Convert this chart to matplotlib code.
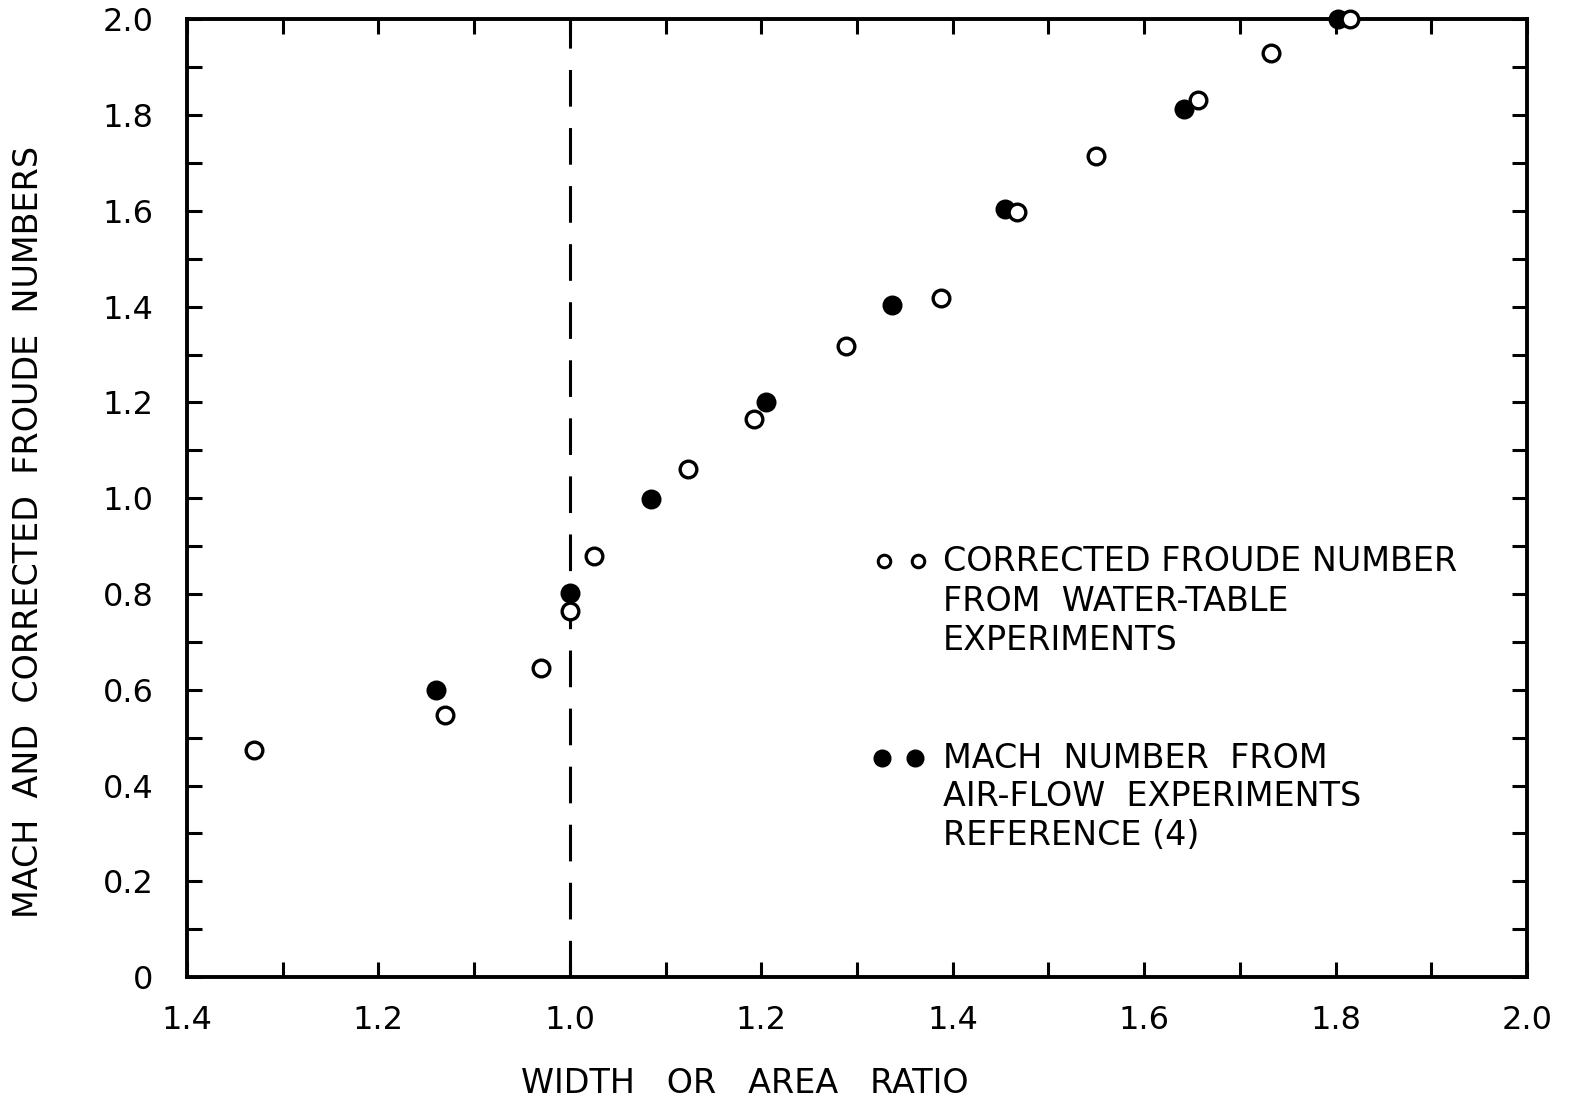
import matplotlib
matplotlib.use("Agg")
import matplotlib.pyplot as plt
from matplotlib.ticker import MultipleLocator, FuncFormatter

# --- data ---
# width/area ratio and which branch of the axis it sits on
# ("sub" = left half running 1.4 -> 1.0, "sup" = right half running 1.0 -> 2.0)
froude_ratio = [1.33, 1.13, 1.03, 1.00, 1.025, 1.123, 1.192, 1.289, 1.388,
                1.467, 1.55, 1.656, 1.733, 1.815]
froude_side = ["sub", "sub", "sub", "sub", "sup", "sup", "sup", "sup", "sup",
               "sup", "sup", "sup", "sup", "sup"]
froude_number = [0.474, 0.547, 0.645, 0.764, 0.879, 1.061, 1.165, 1.317,
                 1.418, 1.597, 1.714, 1.831, 1.929, 2.0]

mach_ratio = [1.14, 1.00, 1.085, 1.205, 1.337, 1.455, 1.642, 1.803]
mach_side = ["sub", "sup", "sup", "sup", "sup", "sup", "sup", "sup"]
mach_number = [0.599, 0.802, 0.998, 1.200, 1.403, 1.603, 1.812, 2.0]

legend_froude = ["CORRECTED FROUDE NUMBER", "FROM  WATER-TABLE", "EXPERIMENTS"]
legend_mach = ["MACH  NUMBER  FROM", "AIR-FLOW  EXPERIMENTS", "REFERENCE (4)"]


def to_axis(ratio, side):
    # fold the subsonic branch so the axis reads 1.4 ... 1.0 ... 2.0
    return [2.0 - r if s == "sub" else r for r, s in zip(ratio, side)]


def ratio_label(t, pos):
    r = 2.0 - t if t < 1.0 else t
    return f"{r:.1f}"


def y_label(v, pos):
    return "0" if abs(v) < 1e-9 else f"{v:.1f}"


plt.rcParams['font.family'] = ['DejaVu Sans']
FS_TICK = 23
FS_TEXT = 24

fig = plt.figure(figsize=(15.71, 11.01), dpi=100)
ax = fig.add_axes([0.119, 0.1125, 0.853, 0.870])

ax.set_xlim(0.6, 2.0)
ax.set_ylim(0.0, 2.0)

# sonic line
ax.axvline(1.0, color='black', lw=2.2, dashes=(12, 7))

ax.plot(to_axis(froude_ratio, froude_side), froude_number, ls='none',
        marker='o', ms=12, mfc='white', mec='black', mew=2.4, clip_on=False,
        zorder=4)
ax.plot(to_axis(mach_ratio, mach_side), mach_number, ls='none',
        marker='o', ms=12, mfc='black', mec='black', mew=2.4, clip_on=False,
        zorder=3)

for side in ['left', 'right', 'top', 'bottom']:
    ax.spines[side].set_linewidth(2.8)

ax.xaxis.set_major_locator(MultipleLocator(0.2))
ax.xaxis.set_minor_locator(MultipleLocator(0.1))
ax.yaxis.set_major_locator(MultipleLocator(0.2))
ax.yaxis.set_minor_locator(MultipleLocator(0.1))
ax.xaxis.set_major_formatter(FuncFormatter(ratio_label))
ax.yaxis.set_major_formatter(FuncFormatter(y_label))
ax.tick_params(which='both', direction='in', length=11, width=2.2,
               top=True, right=True, labelsize=FS_TICK)
ax.tick_params(axis='x', pad=20)
ax.tick_params(axis='y', pad=24)

# hand-drawn style legend
ax.plot([0.520, 0.5455], [0.434, 0.434], transform=ax.transAxes, ls='none',
        marker='o', ms=9, mfc='white', mec='black', mew=2.2, clip_on=False)
ax.plot([0.5187, 0.543], [0.2286, 0.2286], transform=ax.transAxes, ls='none',
        marker='o', ms=12, mfc='black', mec='black', clip_on=False)
for i, line in enumerate(legend_froude):
    ax.text(0.564, 0.434 - i * 0.0415, line, transform=ax.transAxes,
            fontsize=FS_TEXT, va='center', ha='left')
for i, line in enumerate(legend_mach):
    ax.text(0.564, 0.2286 - i * 0.0405, line, transform=ax.transAxes,
            fontsize=FS_TEXT, va='center', ha='left')

fig.text(0.474, 0.0163, "WIDTH   OR   AREA   RATIO", fontsize=FS_TEXT,
         ha='center', va='center')
fig.text(0.018, 0.517, "MACH  AND  CORRECTED  FROUDE  NUMBERS",
         fontsize=FS_TEXT, rotation=90, ha='center', va='center')

fig.savefig("out.png", dpi=100)
